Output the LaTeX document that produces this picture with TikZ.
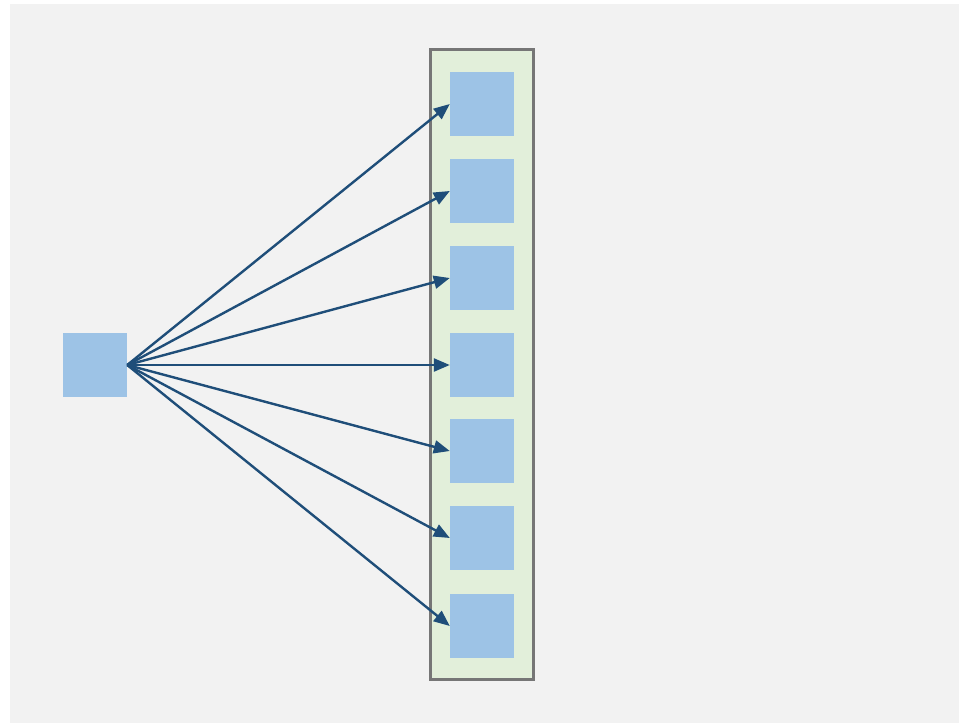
\documentclass[tikz,border=0pt]{standalone}
\usetikzlibrary{arrows.meta}

\definecolor{bggray}{HTML}{F2F2F2}
\definecolor{boxgreen}{HTML}{E2EFDA}
\definecolor{boxline}{HTML}{767676}
\definecolor{cellblue}{HTML}{9DC3E6}
\definecolor{arrowblue}{HTML}{1F4E79}

\begin{document}
\begin{tikzpicture}[x=1pt,y=-1pt]

        \useasboundingbox (0,0) rectangle (959,723);
        \fill[bggray] (10,4) rectangle (959,723);

        % container
        \draw[boxline,line width=2.6pt,fill=boxgreen] (430.5,49.5) rectangle (533.5,679.5);

        \begin{scope}[every node/.style={rectangle,fill=cellblue,minimum size=64pt,inner sep=0pt}]
          \node (src) at (95,365)  {};
          \node (1)  at (482,104) {};
          \node (2)  at (482,191) {};
          \node (3)  at (482,278) {};
          \node (4)  at (482,365) {};
          \node (5)  at (482,451) {};
          \node (6)  at (482,538) {};
          \node (7)  at (482,626) {};
        \end{scope}

        \begin{scope}[every path/.style={draw=arrowblue,line width=2.4pt,-{Triangle[length=16pt,width=13pt]}}]
          \foreach \i in {1,...,7}
            \path (src.east) -- (\i.west);
        \end{scope}

      \end{tikzpicture}
\end{document}
